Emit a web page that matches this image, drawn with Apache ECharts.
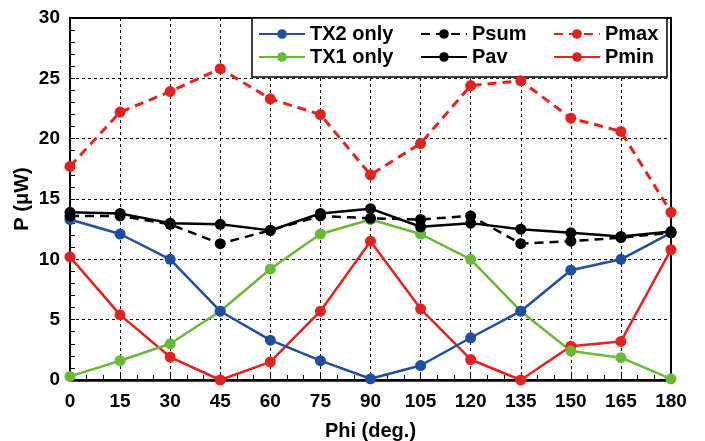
<!DOCTYPE html>
<html>
<head>
<meta charset="utf-8">
<script src="https://cdn.jsdelivr.net/npm/echarts@6/dist/echarts.min.js"></script>
<style>
  html, body { margin: 0; padding: 0; background: #fff; }
  #main { width: 705px; height: 441px; }
</style>
</head>
<body>
<div id="main"></div>
<script>
// angles (deg.)
var phi = [0, 15, 30, 45, 60, 75, 90, 105, 120, 135, 150, 165, 180];
// power values (uW)
var tx2 = [13.3, 12.1, 10.0, 5.7, 3.3, 1.6, 0.1, 1.2, 3.5, 5.7, 9.1, 10.0, 12.2];
var tx1 = [0.3, 1.6, 3.0, 5.7, 9.2, 12.1, 13.3, 12.1, 10.0, 5.7, 2.4, 1.85, 0.1];
var psum = [13.6, 13.6, 12.9, 11.3, 12.4, 13.6, 13.4, 13.3, 13.6, 11.3, 11.5, 11.8, 12.2];
var pav = [13.9, 13.8, 13.0, 12.9, 12.4, 13.8, 14.2, 12.7, 13.0, 12.5, 12.2, 11.9, 12.3];
var pmax = [17.7, 22.2, 23.9, 25.8, 23.3, 22.0, 17.0, 19.6, 24.4, 24.8, 21.7, 20.6, 13.9];
var pmin = [10.2, 5.4, 1.9, 0.0, 1.5, 5.7, 11.5, 5.9, 1.7, 0.0, 2.8, 3.2, 10.8];

var FONT = 'Liberation Sans';
var BLUE = '#1c4ea6', GREEN = '#66bb33', RED = '#e8201c', BLACK = '#000';

function pts(vals) {
  return phi.map(function (p, i) { return [p, vals[i]]; });
}

function line(name, vals, color, dashed, width) {
  return {
    name: name,
    type: 'line',
    data: pts(vals),
    symbol: 'circle',
    symbolSize: 11,
    itemStyle: { color: color },
    lineStyle: { color: color, width: width || 2.5, type: dashed ? [9, 6] : 'solid' }
  };
}

var chart = echarts.init(document.getElementById('main'), null, { renderer: 'canvas' });

var legText = { fontFamily: FONT, fontWeight: 'bold', fontSize: 20, color: '#000', lineHeight: 20 };
function leg(left, names) {
  return {
    orient: 'vertical',
    left: left,
    top: 19,
    itemWidth: 46,
    itemHeight: 12,
    itemGap: 3,
    textStyle: legText,
    data: names,
    z: 10
  };
}

var option = {
  animation: false,
  backgroundColor: '#fff',
  grid: {
    left: 70, right: 34, top: 18, bottom: 61,
    outerBoundsMode: 'none',
    containLabel: false,
    show: true, borderColor: '#000', borderWidth: 2
  },
  legend: [
    leg(253, ['TX2 only', 'TX1 only']),
    leg(415, ['Psum', 'Pav']),
    leg(548, ['Pmax', 'Pmin'])
  ],
  graphic: [{
    type: 'rect',
    shape: { x: 252, y: 18, width: 415, height: 59 },
    style: { fill: '#fff', stroke: '#000', lineWidth: 1.5 },
    z: 3
  }],
  xAxis: {
    type: 'value',
    min: 0, max: 180, interval: 15,
    name: 'Phi (deg.)',
    nameLocation: 'middle',
    nameGap: 41,
    nameTextStyle: { fontFamily: FONT, fontWeight: 'bold', fontSize: 20, color: '#000' },
    axisLine: { lineStyle: { color: '#000', width: 2.5 } },
    axisTick: { show: true, inside: true, length: 5, lineStyle: { color: '#000', width: 1 } },
    minorTick: { show: true, splitNumber: 3, length: 5, lineStyle: { color: '#000', width: 1 } },
    axisLabel: { margin: 12, fontFamily: FONT, fontWeight: 'bold', fontSize: 19, color: '#000' },
    splitLine: { show: true, lineStyle: { color: '#000', width: 1, type: [3, 3] } }
  },
  yAxis: {
    type: 'value',
    min: 0, max: 30, interval: 5,
    name: 'P (\u03bcW)',
    nameLocation: 'middle',
    nameGap: 38,
    nameMoveOverlap: false,
    nameTextStyle: { fontFamily: FONT, fontWeight: 'bold', fontSize: 20, color: '#000' },
    axisLine: { show: true, lineStyle: { color: '#000', width: 2 } },
    axisTick: { show: true, inside: true, length: 5, lineStyle: { color: '#000', width: 1 } },
    minorTick: { show: true, splitNumber: 5, length: 5, lineStyle: { color: '#000', width: 1 } },
    axisLabel: { margin: 10, fontFamily: FONT, fontWeight: 'bold', fontSize: 19, color: '#000' },
    splitLine: { show: true, lineStyle: { color: '#000', width: 1, type: [3, 3] } }
  },
  series: [
    line('Pmax', pmax, RED, true, 3),
    line('Pmin', pmin, RED, false),
    line('TX1 only', tx1, GREEN, false),
    line('TX2 only', tx2, BLUE, false),
    line('Psum', psum, BLACK, true),
    line('Pav', pav, BLACK, false)
  ]
};

chart.setOption(option);
</script>
</body>
</html>
